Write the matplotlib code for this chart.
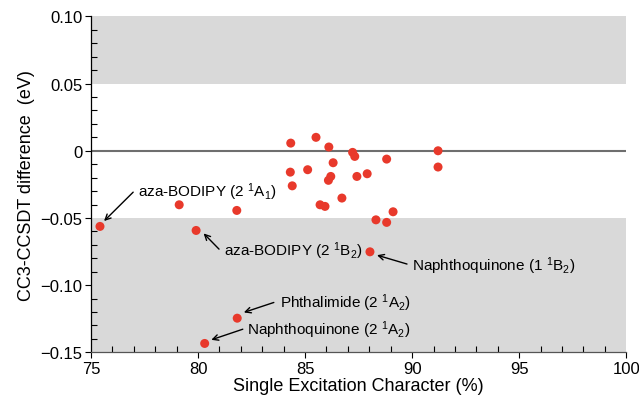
import matplotlib
matplotlib.use("Agg")
import matplotlib.pyplot as plt
from matplotlib.ticker import MultipleLocator, FixedLocator, FixedFormatter

plt.rcParams['font.family'] = ['Liberation Sans', 'DejaVu Sans']
plt.rcParams['mathtext.fontset'] = 'custom'
plt.rcParams['mathtext.rm'] = 'Liberation Sans'
plt.rcParams['mathtext.it'] = 'Liberation Sans'

# --- data ---
single_exc = [75.42, 79.12, 79.91, 81.81, 81.83, 80.31, 84.33, 84.31, 84.40, 85.12,
              85.51, 85.70, 85.93, 86.11, 86.09, 86.20, 86.31, 86.72, 87.22, 87.32,
              87.42, 87.90, 88.03, 88.31, 88.81, 88.81, 89.11, 91.21, 91.21]
cc3_diff = [-0.0563, -0.0402, -0.0593, -0.0444, -0.1246, -0.1434, 0.0057, -0.0159, -0.0261, -0.0141,
            0.0100, -0.0402, -0.0414, 0.0028, -0.0220, -0.0191, -0.0089, -0.0352, -0.0012, -0.0042,
            -0.0191, -0.0171, -0.0752, -0.0514, -0.0533, -0.0062, -0.0454, 0.0, -0.0121]

labels = ['aza-BODIPY (2 $^1$A$_1$)', 'aza-BODIPY (2 $^1$B$_2$)', 'Naphthoquinone (1 $^1$B$_2$)',
          'Phthalimide (2 $^1$A$_2$)', 'Naphthoquinone (2 $^1$A$_2$)']
label_pts = [(75.61, -0.0523), (80.26, -0.0615), (88.36, -0.0777), (82.14, -0.1203), (80.62, -0.1407)]
label_tails = [(76.97, -0.0308), (80.98, -0.0732), (89.76, -0.0843), (83.54, -0.1129), (82.09, -0.1328)]
label_text = [(77.20, -0.0300), (81.19, -0.0739), (89.99, -0.0851), (83.81, -0.1127), (82.30, -0.1328)]

yticks = [-0.15, -0.10, -0.05, 0, 0.05, 0.10]
ytick_labels = ['\u22120.15', '\u22120.10', '\u22120.05', '0', '0.05', '0.10']

fig = plt.figure(figsize=(6.39, 4.02), dpi=100)
ax = fig.add_axes([0.1424, 0.1211, 0.8376, 0.8356])

# shaded "outside +/-0.05 eV" regions and zero line
ax.axhspan(0.05, 0.10, color='#d9d9d9', lw=0, zorder=0)
ax.axhspan(-0.15, -0.05, color='#d9d9d9', lw=0, zorder=0)
ax.axhline(0, color='#6e6e6e', lw=1.5, zorder=1)

ax.scatter(single_exc, cc3_diff, s=42, color='#e8392b', edgecolors='none', zorder=3)

for lab, pt, tail, txt in zip(labels, label_pts, label_tails, label_text):
    ax.annotate('', xy=pt, xytext=tail,
                arrowprops=dict(arrowstyle='->', color='black', lw=1.0, shrinkA=0, shrinkB=0))
    ax.text(txt[0], txt[1], lab, fontsize=11, va='center', ha='left')

ax.set_xlim(75, 100)
ax.set_ylim(-0.15, 0.10)
ax.xaxis.set_major_locator(MultipleLocator(5))
ax.xaxis.set_minor_locator(MultipleLocator(1))
ax.yaxis.set_major_locator(FixedLocator(yticks))
ax.yaxis.set_major_formatter(FixedFormatter(ytick_labels))
ax.yaxis.set_minor_locator(MultipleLocator(0.01))

ax.tick_params(which='major', direction='out', length=4, width=0.8, labelsize=12, pad=2)
ax.tick_params(which='minor', direction='in', length=4, width=0.8)

for s in ['top', 'right']:
    ax.spines[s].set_visible(False)
ax.spines['left'].set_linewidth(0.9)
ax.spines['bottom'].set_linewidth(0.9)
ax.spines['bottom'].set_color('#555555')

ax.set_xlabel('Single Excitation Character (%)', fontsize=13, labelpad=1)
ax.set_ylabel('CC3-CCSDT difference  (eV)', fontsize=13, labelpad=4)

fig.savefig('out.png', dpi=100)
